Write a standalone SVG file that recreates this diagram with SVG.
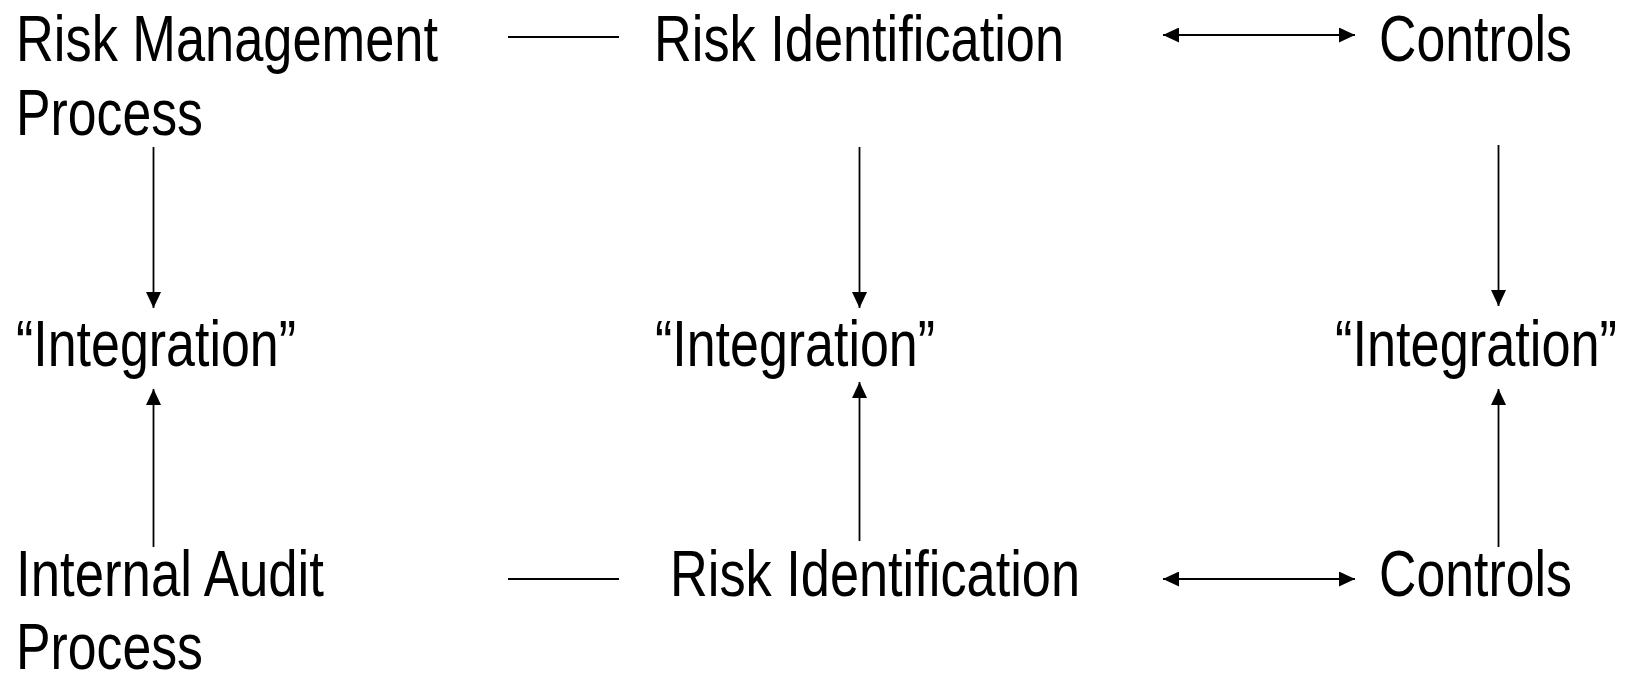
<svg xmlns="http://www.w3.org/2000/svg" width="1626" height="676" viewBox="0 0 1626 676">
<style>
.t{font-family:"Liberation Sans",Arial,sans-serif;font-size:64px;fill:#000}
.c{stroke:#000;stroke-width:1.8;fill:none}
</style>
<defs>
<marker id="ah" markerUnits="userSpaceOnUse" markerWidth="16" markerHeight="15" refX="16" refY="7.5" orient="auto-start-reverse" viewBox="0 0 16 15">
<path d="M0,0 L16,7.5 L0,15 z" fill="#000"/>
</marker>
</defs>
<rect width="1626" height="676" fill="#fff"/>
<g id="rm-process"><text class="t" x="16" y="61" textLength="422" lengthAdjust="spacingAndGlyphs">Risk Management</text><text class="t" x="16" y="135" textLength="187" lengthAdjust="spacingAndGlyphs">Process</text></g>
<g id="rm-riskid"><text class="t" x="654" y="61" textLength="410" lengthAdjust="spacingAndGlyphs">Risk Identification</text></g>
<g id="rm-controls"><text class="t" x="1379" y="61" textLength="193" lengthAdjust="spacingAndGlyphs">Controls</text></g>
<g id="int-left"><text class="t" x="16" y="366" textLength="280" lengthAdjust="spacingAndGlyphs">“Integration”</text></g>
<g id="int-mid"><text class="t" x="655" y="366" textLength="280" lengthAdjust="spacingAndGlyphs">“Integration”</text></g>
<g id="int-right"><text class="t" x="1335" y="366" textLength="282" lengthAdjust="spacingAndGlyphs">“Integration”</text></g>
<g id="ia-process"><text class="t" x="16" y="596" textLength="308" lengthAdjust="spacingAndGlyphs">Internal Audit</text><text class="t" x="16" y="669" textLength="187" lengthAdjust="spacingAndGlyphs">Process</text></g>
<g id="ia-riskid"><text class="t" x="670" y="596" textLength="410" lengthAdjust="spacingAndGlyphs">Risk Identification</text></g>
<g id="ia-controls"><text class="t" x="1379" y="596" textLength="193" lengthAdjust="spacingAndGlyphs">Controls</text></g>
<g id="connectors">
<line class="c" x1="508" y1="37" x2="619" y2="37"/>
<line class="c" x1="1163" y1="35" x2="1355" y2="35" marker-start="url(#ah)" marker-end="url(#ah)"/>
<line class="c" x1="153.5" y1="147" x2="153.5" y2="308" marker-end="url(#ah)"/>
<line class="c" x1="859.5" y1="147" x2="859.5" y2="308" marker-end="url(#ah)"/>
<line class="c" x1="1498.5" y1="145" x2="1498.5" y2="306" marker-end="url(#ah)"/>
<line class="c" x1="153.5" y1="547" x2="153.5" y2="389" marker-end="url(#ah)"/>
<line class="c" x1="859.5" y1="541" x2="859.5" y2="382" marker-end="url(#ah)"/>
<line class="c" x1="1498.5" y1="547" x2="1498.5" y2="389" marker-end="url(#ah)"/>
<line class="c" x1="508" y1="579" x2="619" y2="579"/>
<line class="c" x1="1163" y1="579" x2="1355" y2="579" marker-start="url(#ah)" marker-end="url(#ah)"/>
</g>
</svg>
